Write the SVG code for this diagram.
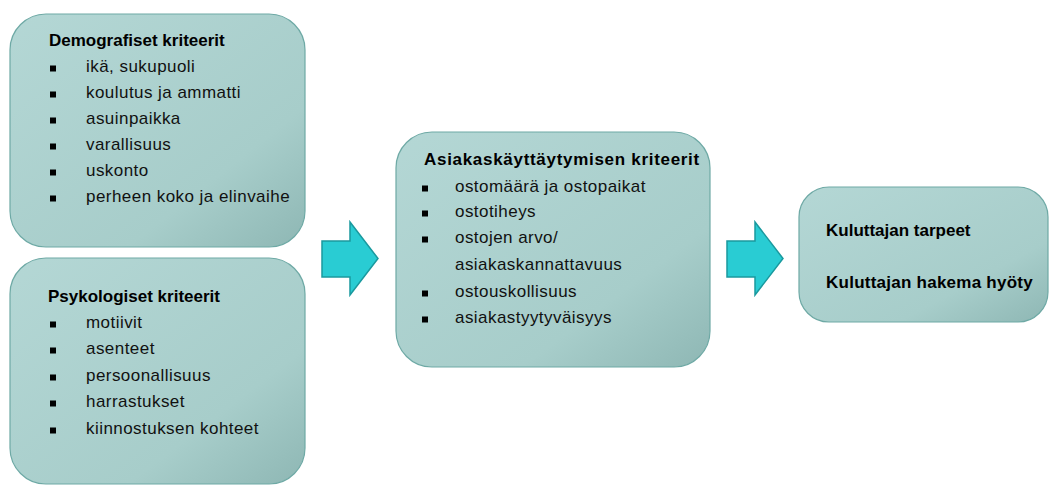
<svg xmlns="http://www.w3.org/2000/svg" width="1049" height="486" viewBox="0 0 1049 486">
<defs>
<linearGradient id="g" x1="0" y1="0" x2="1" y2="1">
<stop offset="0" stop-color="#b4d7d5"/>
<stop offset="0.7" stop-color="#a7cdca"/>
<stop offset="1" stop-color="#8eb7b4"/>
</linearGradient>
<style>
.box{fill:url(#g);stroke:#6ea9a5;stroke-width:1.2}
.t{font-family:"Liberation Sans",Arial,sans-serif;font-size:17px;font-weight:bold;fill:#000}
.i{font-family:"Liberation Sans",Arial,sans-serif;font-size:17px;fill:#111;letter-spacing:0.45px}
.b{fill:#000}
.arr{fill:#29ccd3;stroke:#1a999e;stroke-width:1.5;stroke-linejoin:miter}
</style>
</defs>
<rect width="1049" height="486" fill="#ffffff"/>
<g id="demografiset">
<rect class="box" x="10" y="14" width="295" height="233" rx="36"/>
<text class="t" x="49" y="46">Demografiset kriteerit</text>
<rect class="b" x="50" y="65.5" width="6" height="6"/><text class="i" x="86" y="72">ikä, sukupuoli</text>
<rect class="b" x="50" y="91.5" width="6" height="6"/><text class="i" x="86" y="98">koulutus ja ammatti</text>
<rect class="b" x="50" y="117.5" width="6" height="6"/><text class="i" x="86" y="124">asuinpaikka</text>
<rect class="b" x="50" y="143.5" width="6" height="6"/><text class="i" x="86" y="150">varallisuus</text>
<rect class="b" x="50" y="169.5" width="6" height="6"/><text class="i" x="86" y="176">uskonto</text>
<rect class="b" x="50" y="195.5" width="6" height="6"/><text class="i" x="86" y="202">perheen koko ja elinvaihe</text>
</g>
<g id="psykologiset">
<rect class="box" x="10" y="258" width="295" height="226" rx="36"/>
<text class="t" x="48" y="302">Psykologiset kriteerit</text>
<rect class="b" x="50" y="321.5" width="6" height="6"/><text class="i" x="86" y="328">motiivit</text>
<rect class="b" x="50" y="347.5" width="6" height="6"/><text class="i" x="86" y="354">asenteet</text>
<rect class="b" x="50" y="374.5" width="6" height="6"/><text class="i" x="86" y="381">persoonallisuus</text>
<rect class="b" x="50" y="400.5" width="6" height="6"/><text class="i" x="86" y="407">harrastukset</text>
<rect class="b" x="50" y="427.5" width="6" height="6"/><text class="i" x="86" y="434">kiinnostuksen kohteet</text>
</g>
<g id="asiakaskayttaytyminen">
<rect class="box" x="396" y="132" width="314" height="235" rx="36"/>
<text class="t" x="424" y="165" style="letter-spacing:0.7px">Asiakaskäyttäytymisen kriteerit</text>
<rect class="b" x="422" y="185.5" width="6" height="6"/><text class="i" x="455" y="192">ostomäärä ja ostopaikat</text>
<rect class="b" x="422" y="210.5" width="6" height="6"/><text class="i" x="455" y="217">ostotiheys</text>
<rect class="b" x="422" y="236.5" width="6" height="6"/><text class="i" x="455" y="243">ostojen arvo/</text>
<text class="i" x="455" y="270">asiakaskannattavuus</text>
<rect class="b" x="422" y="290.5" width="6" height="6"/><text class="i" x="455" y="297">ostouskollisuus</text>
<rect class="b" x="422" y="316.5" width="6" height="6"/><text class="i" x="455" y="323">asiakastyytyväisyys</text>
</g>
<g id="kuluttaja">
<rect class="box" x="799" y="187" width="249" height="135" rx="30"/>
<text class="t" x="826" y="236">Kuluttajan tarpeet</text>
<text class="t" x="826" y="288" style="letter-spacing:0.25px">Kuluttajan hakema hyöty</text>
</g>
<g id="connectors">
<polygon class="arr" points="322,241 350,241 350,222 378,258.5 350,295 350,277 322,277"/>
<polygon class="arr" points="727,241 755,241 755,222 783,258.5 755,295 755,277 727,277"/>
</g>
</svg>
